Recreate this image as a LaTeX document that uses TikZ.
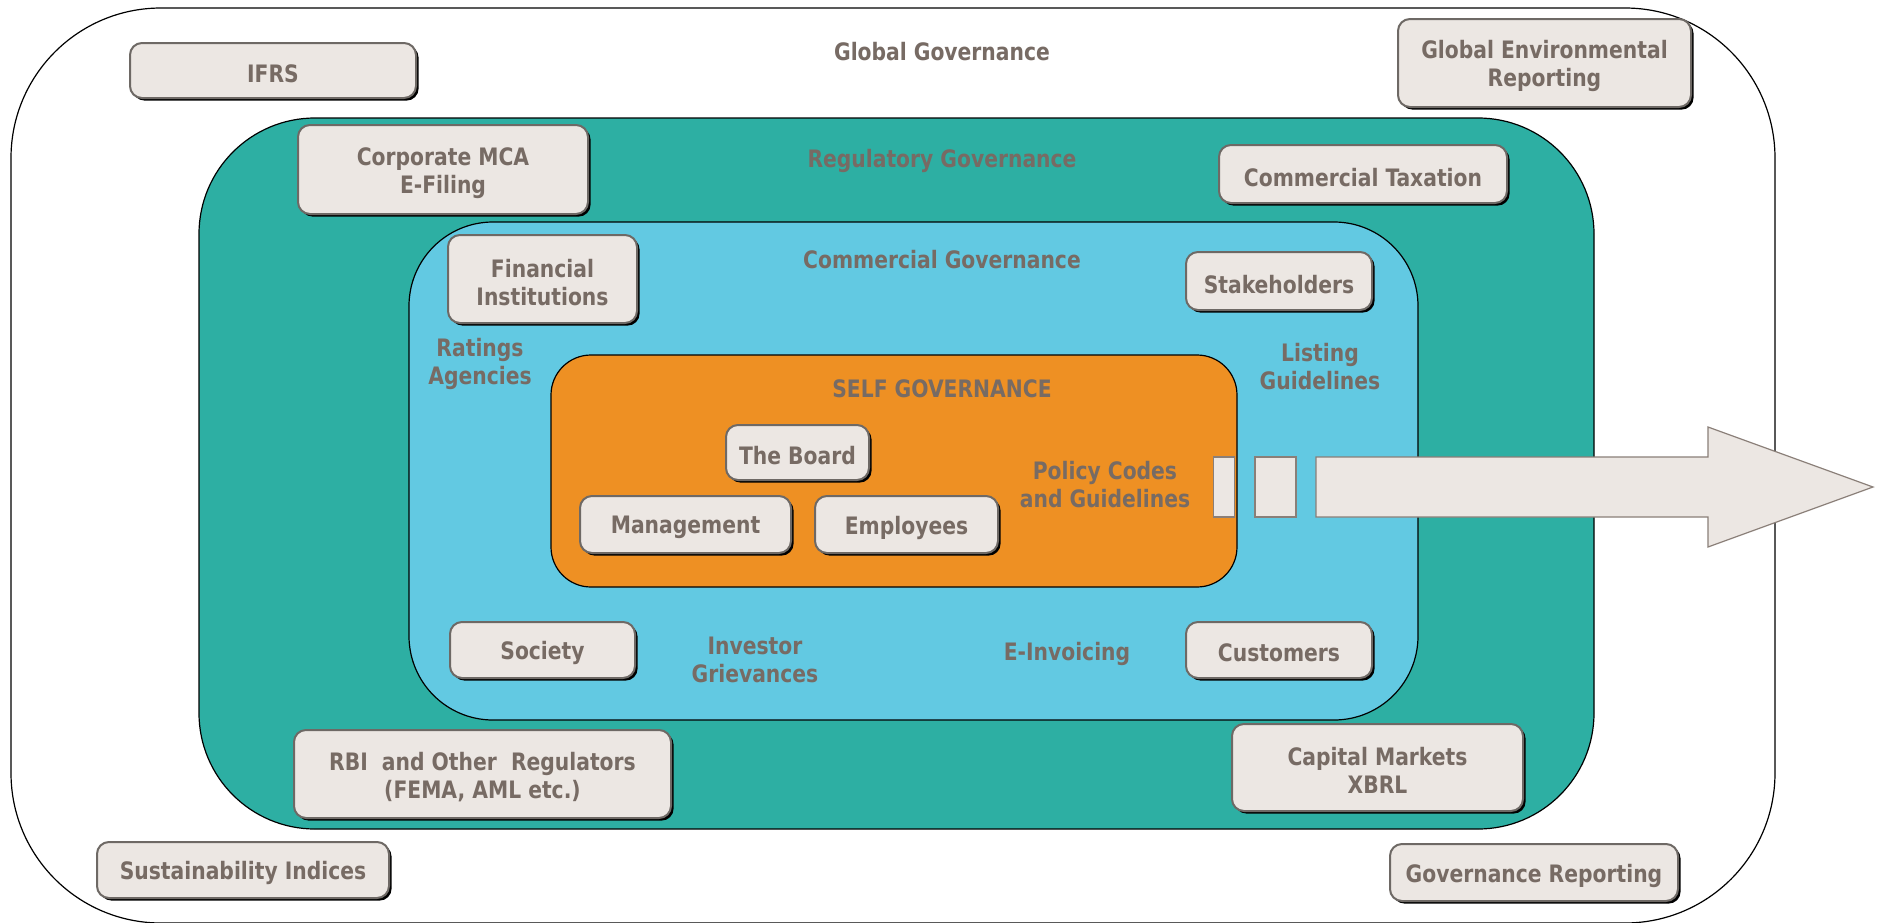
\documentclass[tikz,border=0pt]{standalone}
\usepackage{fontspec}
\newfontfamily\lblfont{DejaVu Sans Condensed Bold}[FakeStretch=0.94]
\usetikzlibrary{shadows}
\definecolor{boxfill}{HTML}{ECE7E3}
\definecolor{boxline}{HTML}{6E6965}
\definecolor{txt}{HTML}{776B64}
\definecolor{teal}{HTML}{2DAFA3}
\definecolor{sky}{HTML}{62C9E2}
\definecolor{amber}{HTML}{EE9023}
\definecolor{arrowline}{HTML}{8A7F78}
\tikzset{
  lbl/.style={text=txt, font=\lblfont\fontsize{12}{14}\selectfont, align=center, inner sep=0pt},
  gbox/.style={draw=boxline, line width=1pt, fill=boxfill, rounded corners=6pt, inner sep=0pt,
    drop shadow={shadow xshift=1.3pt, shadow yshift=-1.3pt, fill=black, opacity=1}},
  zone/.style={draw=black, line width=0.6pt},
  flat/.style={draw=arrowline, line width=0.6pt, fill=boxfill},
}
% boxed entity: name, centre x, centre y, width, height, text
\newcommand{\gb}[6]{%
  \node[gbox, minimum width=#4*0.5pt, minimum height=#5*0.5pt] (#1) at (#2,#3) {};
  \node[lbl] (#1-t) at ([yshift=-1.6pt]#1.center) {#6};}
\begin{document}
\begin{tikzpicture}[x=0.5pt, y=-0.5pt]
\useasboundingbox (0,0) rectangle (1881,922);
% nested governance layers
\draw[zone, fill=white, rounded corners=75pt] (11,8) rectangle (1775,923);
\draw[zone, fill=teal, rounded corners=58pt] (199,118) rectangle (1594,829);
\draw[zone, fill=sky, rounded corners=42pt] (409,222) rectangle (1418,720);
\draw[zone, fill=amber, rounded corners=20pt] (551,355) rectangle (1237,587);

% layer titles and loose labels
\node[lbl] (gg) at (942,52) {Global Governance};
\node[lbl] (rg) at (942,161) {Regulatory Governance};
\node[lbl] (cg) at (942,260) {Commercial Governance};
\node[lbl] (sg) at (942,389) {SELF GOVERNANCE};
\node[lbl] (ra) at (480,364) {Ratings\\Agencies};
\node[lbl] (lg) at (1320,367) {Listing\\Guidelines};
\node[lbl] (pc) at (1105,485) {Policy Codes\\and Guidelines};
\node[lbl] (ig) at (755,660) {Investor\\Grievances};
\node[lbl] (ei) at (1067,654) {E-Invoicing};

% boxed entities
\gb{ifrs}{273}{70.5}{286}{55}{IFRS}
\gb{ger}{1544.5}{63}{293}{88}{Global Environmental\\Reporting}
\gb{mca}{443}{169.5}{290}{89}{Corporate MCA\\E-Filing}
\gb{tax}{1363}{174}{288}{58}{Commercial Taxation}
\gb{fin}{542.5}{279}{189}{88}{Financial\\Institutions}
\gb{stk}{1279}{281}{186}{58}{Stakeholders}
\gb{board}{797.5}{452.5}{143}{55}{The Board}
\gb{mgmt}{685.5}{524.5}{211}{57}{Management}
\gb{emp}{906.5}{524.5}{183}{57}{Employees}
\gb{soc}{542.5}{650}{185}{56}{Society}
\gb{cust}{1279}{650}{186}{56}{Customers}
\gb{rbi}{482.5}{774}{377}{88}{RBI\ \ and Other\ \ Regulators\\(FEMA, AML etc.)}
\gb{cap}{1377.5}{767.5}{291}{87}{Capital Markets\\XBRL}
\gb{sus}{243}{870}{292}{56}{Sustainability Indices}
\gb{gov}{1534}{872.5}{288}{57}{Governance Reporting}

% outward arrow
\draw[flat] (1213.5,457) rectangle (1234.5,517);
\draw[flat] (1255,457) rectangle (1296,517);
\draw[flat] (1316,457) -- (1708,457) -- (1708,427) -- (1873,487) -- (1708,547) -- (1708,517) -- (1316,517) -- cycle;
\end{tikzpicture}
\end{document}
